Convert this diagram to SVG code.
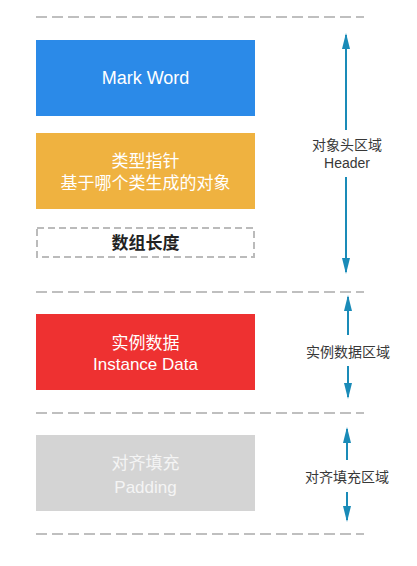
<svg xmlns="http://www.w3.org/2000/svg" width="417" height="566" viewBox="0 0 417 566">
<defs>
<style>
.t{font-family:"Liberation Sans","Noto Sans CJK SC",sans-serif;text-anchor:middle;dominant-baseline:central}
.w{fill:#ffffff;font-size:17px}
.lbl{fill:#383838;font-size:14px}
.sep{stroke:#aaaaaa;stroke-width:1.5;stroke-dasharray:11 5;fill:none}
.arr{stroke:#1a8bb8;stroke-width:2;fill:none}
</style>
<marker id="ah" viewBox="0 0 16 8" refX="14" refY="4" markerWidth="16" markerHeight="8" markerUnits="userSpaceOnUse" orient="auto">
<path d="M0,0 L16,4 L0,8 Z" fill="#1a8bb8"/>
</marker>
</defs>
<rect width="417" height="566" fill="#ffffff"/>
<g id="separators">
<line class="sep" x1="36" y1="17" x2="364" y2="17"/>
<line class="sep" x1="36" y1="292" x2="364" y2="292"/>
<line class="sep" x1="36" y1="413" x2="364" y2="413"/>
<line class="sep" x1="36" y1="534" x2="364" y2="534"/>
</g>
<g id="mark-word">
<rect x="36" y="40" width="219" height="76" fill="#2b8ae8"/>
<text class="t w" x="145.5" y="78" style="font-size:18px">Mark Word</text>
</g>
<g id="klass-pointer">
<rect x="36" y="133" width="219" height="76" fill="#efb240"/>
<text class="t w" x="145.5" y="161">类型指针</text>
<text class="t w" x="145.5" y="183">基于哪个类生成的对象</text>
</g>
<g id="array-length">
<rect x="37" y="228" width="217" height="29" fill="none" stroke="#bbbbbb" stroke-width="2" stroke-dasharray="7 4"/>
<text class="t" x="145.5" y="243" style="font-size:17px;font-weight:bold;fill:#222222">数组长度</text>
</g>
<g id="instance-data">
<rect x="36" y="314" width="219" height="76" fill="#ee3131"/>
<text class="t w" x="145.5" y="343">实例数据</text>
<text class="t w" x="145.5" y="364">Instance Data</text>
</g>
<g id="padding">
<rect x="36" y="435" width="219" height="76" fill="#d4d4d4"/>
<text class="t w" x="145.5" y="463" style="fill:#f4f4f4">对齐填充</text>
<text class="t w" x="145.5" y="487" style="fill:#f4f4f4">Padding</text>
</g>
<g id="header-label">
<text class="t lbl" x="347" y="145">对象头区域</text>
<text class="t lbl" x="347" y="163">Header</text>
</g>
<g id="instance-label">
<text class="t lbl" x="348" y="352">实例数据区域</text>
</g>
<g id="padding-label">
<text class="t lbl" x="347" y="477">对齐填充区域</text>
</g>
<g id="connectors">
<line class="arr" x1="346" y1="130" x2="346" y2="35" marker-end="url(#ah)"/>
<line class="arr" x1="346" y1="177" x2="346" y2="272" marker-end="url(#ah)"/>
<line class="arr" x1="348" y1="335" x2="348" y2="297" marker-end="url(#ah)"/>
<line class="arr" x1="348" y1="366" x2="348" y2="397" marker-end="url(#ah)"/>
<line class="arr" x1="347" y1="460" x2="347" y2="429" marker-end="url(#ah)"/>
<line class="arr" x1="347" y1="492" x2="347" y2="520" marker-end="url(#ah)"/>
</g>
</svg>
